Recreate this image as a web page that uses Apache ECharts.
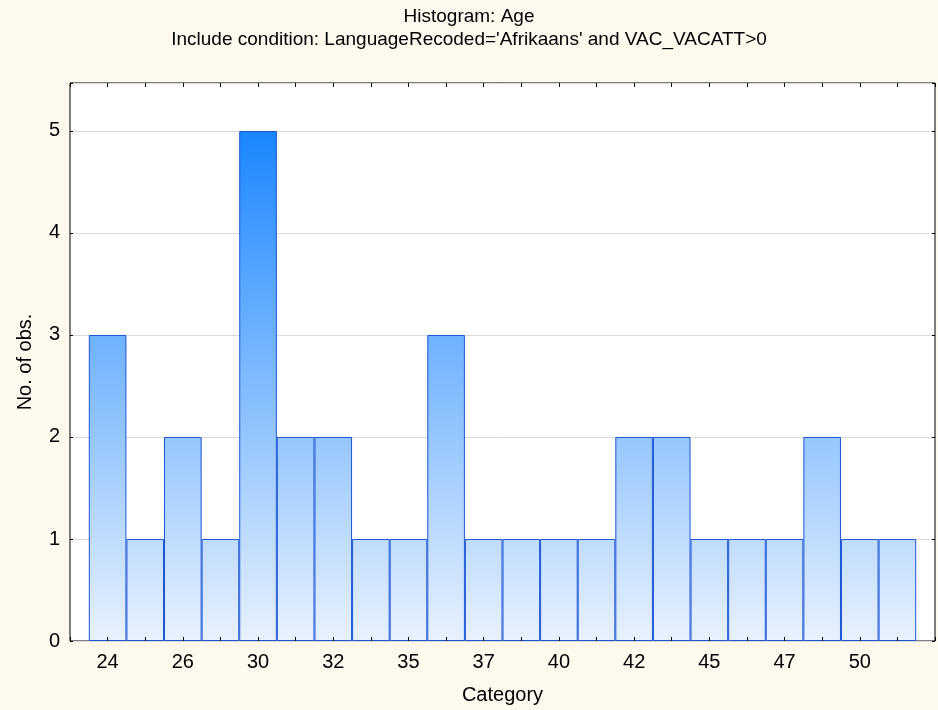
<!DOCTYPE html>
<html>
<head>
<meta charset="utf-8">
<script src="https://cdn.jsdelivr.net/npm/echarts@6/dist/echarts.min.js"></script>
<style>
  html, body { margin: 0; padding: 0; background: #fdf9ef; }
  #chart { width: 938px; height: 710px; }
</style>
</head>
<body>
<div id="chart"></div>
<script>
const categories = ['24', '25', '26', '28', '30', '31', '32', '33', '35', '36', '37',
  '38', '40', '41', '42', '43', '45', '46', '47', '48', '50', '51'];
const counts = [3, 1, 2, 1, 5, 2, 2, 1, 1, 3, 1, 1, 1, 1, 2, 2, 1, 1, 1, 2, 1, 1];
const yTicks = [0, 1, 2, 3, 4, 5];

const font = 'Liberation Sans, Arial, sans-serif';
const plotTop = 83;
const plotBottom = 642;
const yMax = 5.47;

// gradient follows the value scale, dark at 5 and pale at 0
const yAt5 = plotBottom - (5 / yMax) * (plotBottom - plotTop);
const barFill = new echarts.graphic.LinearGradient(0, yAt5, 0, plotBottom, [
  { offset: 0, color: '#1a86ff' },
  { offset: 1, color: '#e9f2fd' }
], true);

const chart = echarts.init(document.getElementById('chart'));

const option = {
  backgroundColor: '#fdf9ef',
  animation: false,
  title: {
    text: 'Histogram: Age\nInclude condition: LanguageRecoded=\'Afrikaans\' and VAC_VACATT>0',
    left: 'center',
    top: 0,
    textStyle: {
      fontFamily: font,
      fontSize: 19,
      fontWeight: 'normal',
      color: '#000',
      lineHeight: 23,
      align: 'center'
    }
  },
  grid: {
    left: 70,
    right: 2,
    top: plotTop,
    bottom: 710 - plotBottom,
    show: true,
    backgroundColor: '#fff',
    borderColor: '#000',
    borderWidth: 1
  },
  xAxis: [
    {
      type: 'value',
      z: 5,
      min: -1,
      max: categories.length,
      interval: 1,
      name: 'Category',
      nameLocation: 'middle',
      nameGap: 44,
      nameTextStyle: { fontFamily: font, fontSize: 20, color: '#000' },
      axisLine: { show: false, onZero: false },
      axisTick: { inside: true, length: 4, lineStyle: { color: '#000' } },
      axisLabel: {
        fontFamily: font,
        fontSize: 20,
        color: '#000',
        margin: 11,
        formatter: v => (v >= 0 && v < categories.length && v % 2 === 0) ? categories[v] : ''
      },
      splitLine: { show: false }
    },
    {
      type: 'value',
      position: 'top',
      min: -1,
      max: categories.length,
      interval: 1,
      axisLine: { show: false, onZero: false },
      axisTick: { inside: true, length: 4, lineStyle: { color: '#000' } },
      axisLabel: { show: false },
      splitLine: { show: false }
    }
  ],
  yAxis: [
    {
      type: 'value',
      min: 0,
      max: yMax,
      interval: 1,
      name: 'No. of obs.',
      nameLocation: 'middle',
      nameGap: 35,
      nameTextStyle: { fontFamily: font, fontSize: 20, color: '#000' },
      axisLine: { show: false, onZero: false },
      axisTick: { inside: true, length: 3, lineStyle: { color: '#000' } },
      axisLabel: {
        fontFamily: font,
        fontSize: 20,
        color: '#000',
        margin: 10,
        formatter: v => yTicks.includes(v) ? String(v) : ''
      },
      splitLine: { show: true, lineStyle: { color: '#d9d9d9', width: 1 } }
    },
    {
      type: 'value',
      position: 'right',
      min: 0,
      max: yMax,
      interval: 1,
      axisLine: { show: false, onZero: false },
      axisTick: { inside: true, length: 3, lineStyle: { color: '#000' } },
      axisLabel: { show: false },
      splitLine: { show: false }
    }
  ],
  series: [
    {
      type: 'bar',
      xAxisIndex: 0,
      yAxisIndex: 0,
      barWidth: '100%',
      data: counts.map((c, i) => [i, c]),
      itemStyle: {
        color: barFill,
        borderColor: '#1a55d6',
        borderWidth: 1
      }
    }
  ]
};

chart.setOption(option);
</script>
</body>
</html>
